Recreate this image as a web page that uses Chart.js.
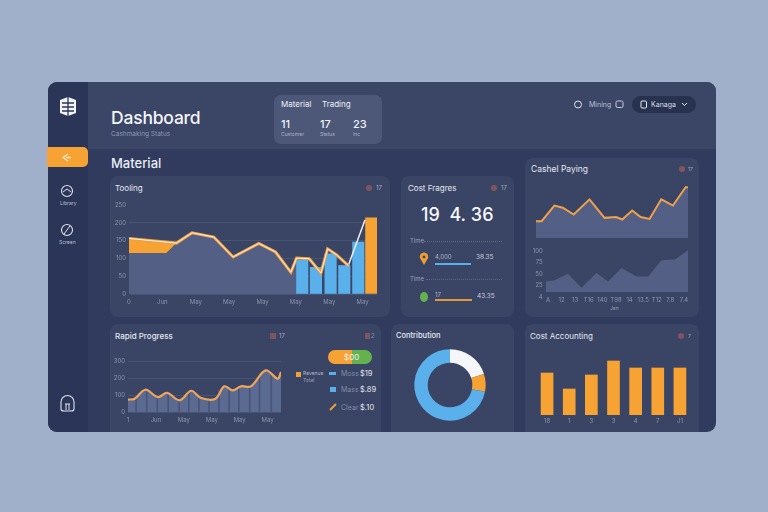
<!DOCTYPE html>
<html><head><meta charset="utf-8">
<script src="https://cdn.jsdelivr.net/npm/chart.js@4"></script>
<style>
html,body{margin:0;padding:0;width:768px;height:512px;overflow:hidden;background:#a0b0ca;font-family:"Inter","Noto Sans",sans-serif;color:#eef1f7}
#app{position:absolute;left:48px;top:82px;width:668px;height:350px;border-radius:9px;overflow:hidden;background:#303b5d}
#side{position:absolute;left:0;top:0;width:40px;height:350px;background:#2a3558}
#head{position:absolute;left:40px;top:0;width:628px;height:67px;background:#3b4566}
.abs{position:absolute}
.card{position:absolute;background:#3a4464;border-radius:8px}
.t{position:absolute;white-space:nowrap;line-height:1}
canvas{position:absolute}
svg{position:absolute;overflow:visible}
</style></head><body>
<div id="app">
 <div id="side"></div><div id="head"></div>
</div>
<div class="abs" style="left:47px;top:147px;width:41px;height:20px;background:#f7a334;border-radius:0 5px 5px 0"></div>
<div class="abs" style="left:632px;top:96px;width:64px;height:17px;background:#27324f;border-radius:9px"></div>
<svg style="left:0;top:0" width="768" height="512" fill="none">
 <path d="M60 100 L68 97 L76 100 V113 L68 116 L60 113 Z" fill="#f3f5fa"/>
 <path d="M68 97 V116 M62 103 H74 M62 107 H74 M62 111 H74" stroke="#2a3558" stroke-width="1.3"/>
 <path d="M68 154 L63 157.5 L68 161 M66 157.5 H71" stroke="#f8e6cc" stroke-width="1.4"/>
 <circle cx="67" cy="191" r="5.5" stroke="#dfe4ef" stroke-width="1.1"/><path d="M63 192 L67 189 L71 192" stroke="#dfe4ef"/>
 <circle cx="67" cy="230" r="5.5" stroke="#dfe4ef" stroke-width="1.1"/><path d="M64 234 L70 226" stroke="#dfe4ef"/>
 <path d="M61 409 V402 A6.5 6.5 0 0 1 74 402 V409 Q74 411 71 411 H64 Q61 411 61 409 Z" stroke="#dfe4ef" stroke-width="1.1"/><path d="M65 404 H70 M66 404 V410 M69 404 V410" stroke="#dfe4ef"/>
 <circle cx="578" cy="104.5" r="3.5" stroke="#dfe4ef"/>
 <rect x="616" y="101" width="7" height="6.5" rx="1.5" stroke="#c9d0df"/>
 <rect x="641" y="101" width="5.5" height="7" rx="1" stroke="#e4e8f0"/>
 <path d="M682 103 L684.5 105.5 L687 103" stroke="#e4e8f0"/>
</svg>
<div class="t" style="left:111px;top:109px;font-size:17.5px;font-weight:500;letter-spacing:-.2px;color:#f3f5fa">Dashboard</div>
<div class="t" style="left:111px;top:131px;font-size:6.5px;color:#8d98b3">Cashmaking Status</div>
<div class="t" style="left:111px;top:157px;font-size:13px;font-weight:500;color:#e9edf5">Material</div>
<div class="t" style="left:589px;top:101px;font-size:7px;color:#b7c0d3">Mining</div>
<div class="t" style="left:651px;top:101px;font-size:7px;color:#d7dce8">Kanaga</div>
<div class="t" style="left:60px;top:201px;font-size:5px;color:#b7c0d3">Library</div>
<div class="t" style="left:59px;top:240px;font-size:5px;color:#b7c0d3">Screen</div>

<div class="card" style="left:274px;top:95px;width:108px;height:49px;background:#4d5778;border-radius:7px"></div>
<div class="t" style="left:281px;top:100px;font-size:8px;color:#eef1f7">Material</div>
<div class="t" style="left:322px;top:100px;font-size:8px;color:#eef1f7">Trading</div>
<div class="t" style="left:281px;top:119px;font-size:11px;font-weight:500">11</div>
<div class="t" style="left:320px;top:119px;font-size:11px;font-weight:500">17</div>
<div class="t" style="left:353px;top:119px;font-size:11px;font-weight:500">23</div>
<div class="t" style="left:281px;top:132px;font-size:5px;color:#aab3c8">Customer</div>
<div class="t" style="left:320px;top:132px;font-size:5px;color:#aab3c8">Status</div>
<div class="t" style="left:353px;top:132px;font-size:5px;color:#aab3c8">Inc</div>

<div class="card" style="left:110px;top:176px;width:280px;height:141px"></div>
<div class="card" style="left:401px;top:176px;width:113px;height:141px"></div>
<div class="card" style="left:525px;top:158px;width:174px;height:159px"></div>
<div class="card" style="left:110px;top:324px;width:271px;height:108px;border-radius:8px 8px 0 0"></div>
<div class="card" style="left:391px;top:324px;width:123px;height:108px;border-radius:8px 8px 0 0"></div>
<div class="card" style="left:525px;top:324px;width:174px;height:108px;border-radius:8px 8px 0 0"></div>

<svg style="left:0;top:0" width="768" height="512" fill="none">
 <path d="M420 258 A4.2 4.2 0 1 1 428 258 L424 265 Z" fill="#f1a02f"/>
 <circle cx="424" cy="257" r="1.4" fill="#3a4464"/>
 <path d="M330 410 L336 404" stroke="#f0a035" stroke-width="2"/>
</svg>

<div class="t" style="left:115px;top:184px;font-size:8px;color:#e5e9f2">Tooling</div>
<div class="abs" style="left:366px;top:185px;width:6px;height:6px;border-radius:50%;background:#80545f"></div>
<div class="t" style="left:376px;top:185px;font-size:6px;color:#a5aec3">17</div>
<div class="t" style="left:408px;top:184px;font-size:8px;color:#e5e9f2">Cost Fragres</div>
<div class="abs" style="left:491px;top:185px;width:6px;height:6px;border-radius:50%;background:#80545f"></div>
<div class="t" style="left:501px;top:185px;font-size:6px;color:#a5aec3">17</div>
<div class="t" style="left:421px;top:206px;font-size:18px;font-weight:500;color:#f5f7fb">19&nbsp;&nbsp;4.&nbsp;36</div>

<div class="t" style="left:410px;top:238px;font-size:6px;color:#98a2ba">Time</div>
<div class="abs" style="left:424px;top:241px;width:78px;border-top:1px dotted #5d6885"></div>
<div class="t" style="left:435px;top:254px;font-size:6px;color:#aeb7cb">4,000</div>
<div class="abs" style="left:435px;top:263px;width:36px;height:2px;background:#5ab0ea"></div>
<div class="t" style="left:476px;top:254px;font-size:6.5px;color:#c8cfdd">38.35</div>
<div class="t" style="left:410px;top:276px;font-size:6px;color:#98a2ba">Time</div>
<div class="abs" style="left:426px;top:279px;width:76px;border-top:1px dotted #5d6885"></div>
<div class="abs" style="left:420px;top:292px;width:8px;height:10px;border-radius:50%;background:#64b24c"></div>
<div class="t" style="left:435px;top:292px;font-size:6px;color:#aeb7cb">17</div>
<div class="abs" style="left:435px;top:299px;width:37px;height:2px;background:#e0983a"></div>
<div class="t" style="left:477px;top:293px;font-size:6.5px;color:#c8cfdd">43.35</div>

<div class="t" style="left:531px;top:165px;font-size:8.5px;color:#e5e9f2">Cashel Paying</div>
<div class="abs" style="left:679px;top:166px;width:6px;height:6px;border-radius:50%;background:#80545f"></div>
<div class="t" style="left:688px;top:167px;font-size:5px;color:#a5aec3">17</div>
<div class="t" style="left:610px;top:306px;font-size:5px;color:#98a2ba">Jan</div>

<div class="t" style="left:115px;top:332px;font-size:8px;font-weight:500;color:#e5e9f2">Rapid Progress</div>
<div class="abs" style="left:270px;top:333px;width:6px;height:6px;background:#80545f"></div>
<div class="t" style="left:279px;top:333px;font-size:6px;color:#a5aec3">17</div>
<div class="abs" style="left:365px;top:333px;width:5px;height:6px;background:#80545f"></div>
<div class="t" style="left:371px;top:333px;font-size:6px;color:#6f90d8">2</div>
<div class="abs" style="left:328px;top:350px;width:44px;height:14px;border-radius:7px;background:linear-gradient(90deg,#f7a334 0 54%,#63b14f 54% 100%)"></div>
<div class="t" style="left:344px;top:353px;font-size:8px;color:#f1f3f6">$00</div>
<div class="abs" style="left:296px;top:372px;width:5px;height:5px;background:#f0a035"></div>
<div class="t" style="left:303px;top:371px;font-size:5px;color:#aeb7cb">Revenue</div>
<div class="t" style="left:303px;top:378px;font-size:5px;color:#98a2ba">Total</div>
<div class="abs" style="left:329px;top:372px;width:7px;height:3px;background:#5ab0ea"></div>
<div class="t" style="left:341px;top:370px;font-size:7px;color:#7f8cab">Moss</div>
<div class="t" style="left:360px;top:370px;font-size:7.5px;color:#e5e9f2">$19</div>
<div class="abs" style="left:330px;top:387px;width:6px;height:5px;background:#5ab0ea"></div>
<div class="t" style="left:341px;top:386px;font-size:7px;color:#7f8cab">Mass</div>
<div class="t" style="left:360px;top:386px;font-size:7.5px;color:#e5e9f2">$.89</div>
<div class="t" style="left:341px;top:404px;font-size:7px;color:#7f8cab">Clear</div>
<div class="t" style="left:360px;top:404px;font-size:7.5px;color:#e5e9f2">$.10</div>

<div class="t" style="left:396px;top:332px;font-size:7.5px;font-weight:500;color:#e5e9f2">Contribution</div>
<div class="t" style="left:530px;top:332px;font-size:8px;color:#e5e9f2">Cost Accounting</div>
<div class="abs" style="left:678px;top:333px;width:6px;height:6px;border-radius:50%;background:#80545f"></div>
<div class="t" style="left:688px;top:334px;font-size:5px;color:#a5aec3">7</div>

<canvas id="c1" width="273" height="113" style="left:109px;top:197px"></canvas>
<canvas id="c2" width="160" height="64" style="left:532px;top:174px"></canvas>
<canvas id="c3" width="167" height="71" style="left:525px;top:240px"></canvas>
<canvas id="c4" width="177" height="73" style="left:108px;top:353px"></canvas>
<canvas id="c5" width="84" height="84" style="left:408px;top:343px"></canvas>
<canvas id="c6" width="155" height="82" style="left:536px;top:347px"></canvas>

<script>
// Chart 1 "Tooling"
const trendTicks = ["0","Jun","May","May","May","May","May","May"];
const trendYTicks = [0,50,100,150,200,250];
const trendLineX = [0,1.42,1.89,2.54,3.12,3.89,4.39,4.85,5.02,5.4,5.75,5.95,6.22,6.57];
const trendLineY = [156,143,172,160,104,142,118,61,101,99,59,127,110,80];
const trendTailX = [6.57,7.07];
const trendTailY = [80,208];
const orangeTopX = [0,1.42];
const orangeTopY = [156,143];
const greyAreaX = [0,1.12,1.42,1.89,2.54,3.12,3.89,4.39,4.85,5.02];
const greyAreaY = [115,115,143,172,160,104,142,118,61,101];
const blueBarX = [5.19,5.6,6.04,6.45,6.87];
const blueBarY = [95,75,113,80,146];
const orangeBarX = [7.26];
const orangeBarY = [214];

// Chart 2 "Cashel Paying", upper
const payX = [0,0.37,1.21,1.76,2.48,3.52,4.51,5.27,5.67,6.33,6.88,7.47,8.24,9.01,9.85,10];
const payY = [30,30,58,54,42,69,36,37.5,33,49,37.5,34,69,58,91,90];

// Chart 2, lower
const lowTicks = ["A","12","13","T16","140","T98","14","13.5","T12","7.8","7.4"];
const lowYTicks = [0,25,50,75,100];
const lowYLabels = ["4","25","50","75","100"];
const lowX = [-0.17,0.49,1.47,2.46,3.56,4.42,5.4,6.51,7.37,8.35,9.34,10.3];
const lowY = [34,36.5,51,20,52.5,34,63.5,45,45,80,82,102];

// Chart 3 "Rapid Progress"
const rapidTicks = ["1","Jun","May","May","May","May"];
const rapidYTicks = [0,100,200,300];
const rapidX = [0,0.24,0.62,1.07,1.4,1.85,2.26,2.62,3.13,3.45,3.75,4.05,4.4,4.93,5.36,5.48];
const rapidY = [73,78,131,88,112,69,125,82,78,151,127,151,151,245,196,235];
const seamX = [0.29,0.67,1.05,1.44,1.83,2.18,2.54,2.9,3.26,3.62,3.97,4.36,4.71,5.13];
const seamY = [85,125,90,110,70,115,88,78,130,135,150,152,205,225];

// Chart 4 "Contribution"
const shareLabels = ["White","Orange","Blue"];
const shareValues = [20,8,72];

// Chart 5 "Cost Accounting"
const costLabels = ["18","1","3","3","4","7","J1"];
const costValues = [42,26,40,54,47,47,47];

const ORANGE="#f7a334",BLUE="#5ab0ea",AREA="#535f85",TICK="#8b96b0",GRID="rgba(190,200,225,.12)";
Chart.defaults.font.family='"Inter","Noto Sans",sans-serif';
Chart.defaults.font.size=6;
Chart.defaults.color=TICK;
Chart.defaults.animation=false;
const pts=(xs,ys)=>xs.map((x,i)=>({x,y:ys[i]}));
const base=(pad)=>({responsive:false,devicePixelRatio:1,animation:false,layout:{padding:pad},
  plugins:{legend:{display:false},tooltip:{enabled:false}},elements:{point:{radius:0}}});
// axis with fixed tick positions; width or height fixed so the plot stays where the picture has it
const xAxis=(min,max,labels,h,pad)=>({type:'linear',min,max,offset:false,
  afterBuildTicks:s=>{s.ticks=labels.map((_,i)=>({value:i}));},
  afterFit:s=>{s.height=h;},grid:{display:false,drawTicks:false,tickLength:0},border:{display:false},
  ticks:{callback:v=>labels[v],padding:pad,maxRotation:0,autoSkip:false,font:{size:6}}});
const yAxis=(min,max,vals,w,labels,grid)=>({min,max,
  afterBuildTicks:s=>{s.ticks=vals.map(v=>({value:v}));},
  afterFit:s=>{s.width=w;},
  grid:grid?{color:c=>c.tick&&c.tick.value===max&&max===250?'transparent':GRID,drawTicks:false,tickLength:0}:{display:false,drawTicks:false,tickLength:0},border:{display:false},
  ticks:{callback:v=>labels?labels[vals.indexOf(v)]:String(v),padding:3,font:{size:6}}});

new Chart(document.getElementById('c1'),{type:'line',data:{datasets:[
  {data:pts(trendLineX,trendLineY),borderColor:"#fff3e0",borderWidth:1,order:1},
  {data:pts(trendLineX,trendLineY),borderColor:"#ee9f45",borderWidth:3,order:2},
  {data:pts(trendTailX,trendTailY),borderColor:"#eef1f7",borderWidth:1.5,order:2},
  {type:'bar',data:pts(orangeBarX,orangeBarY),backgroundColor:ORANGE,barThickness:11.5,grouped:false,order:3},
  {type:'bar',data:pts(blueBarX,blueBarY),backgroundColor:BLUE,barThickness:11.5,grouped:false,order:3},
  {data:pts(orangeTopX,orangeTopY),borderWidth:0,backgroundColor:ORANGE,fill:'+1',order:4},
  {data:pts(greyAreaX,greyAreaY),borderWidth:0,backgroundColor:AREA,fill:'origin',order:5}
]},options:{...base({top:8,right:5}),scales:{
  x:xAxis(0,7.43,trendTicks,16,5),
  y:yAxis(0,250,trendYTicks,20,null,true)}}});

new Chart(document.getElementById('c2'),{type:'line',data:{datasets:[
  {data:pts(payX,payY),borderColor:"#f0a24a",borderWidth:2,backgroundColor:AREA,fill:'origin'}
]},options:{...base({top:8,right:4,left:4}),scales:{
  x:{type:'linear',min:0,max:10,display:false},
  y:{min:0,max:100,display:false}}}});

new Chart(document.getElementById('c3'),{type:'line',data:{datasets:[
  {data:pts(lowX,lowY),borderWidth:0,backgroundColor:AREA,fill:{value:11}}
]},options:{...base({top:8,right:4}),scales:{
  x:xAxis(-0.17,10.3,lowTicks,14,0),
  y:yAxis(0,107,lowYTicks,20.7,lowYLabels,false)}}});

new Chart(document.getElementById('c4'),{type:'line',data:{datasets:[
  {data:pts(rapidX,rapidY),borderColor:"#f0a65a",borderWidth:2.2,tension:.35,order:1},
  {type:'bar',data:pts(seamX,seamY),backgroundColor:"#48547a",barThickness:1,order:2},
  {data:pts(rapidX,rapidY),borderWidth:0,backgroundColor:"#5b6a90",tension:.35,fill:'origin',order:3}
]},options:{...base({top:8,right:4}),scales:{
  x:xAxis(0,5.48,rapidTicks,14,5),
  y:yAxis(0,300,rapidYTicks,20,null,true)}}});

new Chart(document.getElementById('c5'),{type:'doughnut',data:{labels:shareLabels,datasets:[
  {data:shareValues,backgroundColor:["#f5f6fa",ORANGE,BLUE],borderWidth:0}
]},options:{...base(6.3),cutout:'62.5%'}});

new Chart(document.getElementById('c6'),{type:'bar',data:{labels:costLabels,datasets:[
  {data:costValues,backgroundColor:ORANGE,barThickness:12}
]},options:{...base({top:8}),scales:{
  x:{grid:{display:false,drawTicks:false,tickLength:0},border:{display:false},afterFit:s=>{s.height=14;},ticks:{padding:3,font:{size:6}}},
  y:{min:0,max:60,display:false}}}});
</script>
</body></html>
